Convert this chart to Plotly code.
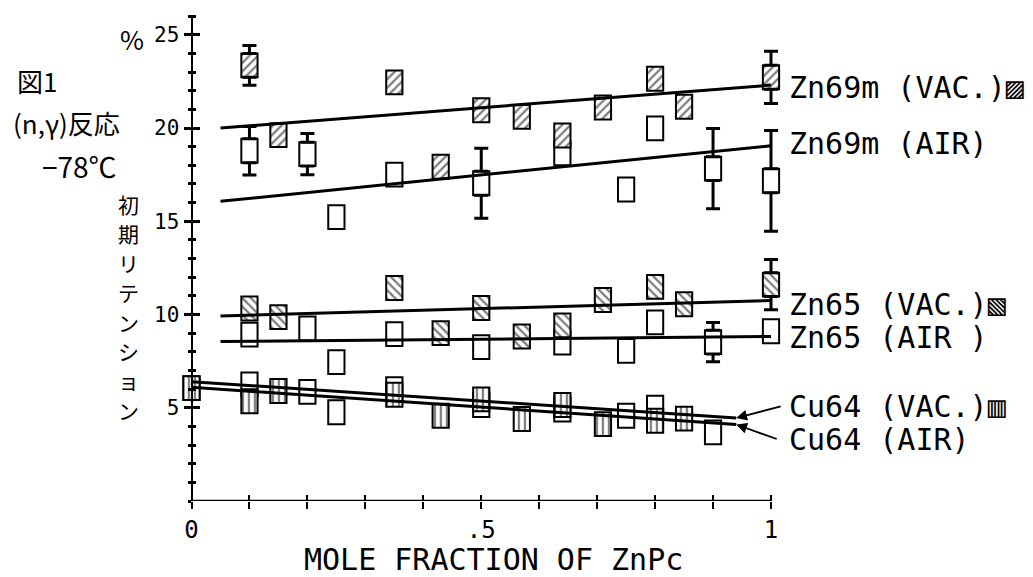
import plotly.graph_objects as go

# ---------------- data ----------------
zn69m_vac_x = [0.10, 0.15, 0.35, 0.43, 0.50, 0.57, 0.64, 0.71, 0.80, 0.85, 1.00]
zn69m_vac_y = [23.36, 19.62, 22.45, 17.92, 20.95, 20.60, 19.60, 21.10, 22.64, 21.14, 22.72]
zn69m_air_x = [0.10, 0.20, 0.25, 0.35, 0.50, 0.64, 0.75, 0.80, 0.90, 1.00]
zn69m_air_y = [18.78, 18.60, 15.22, 17.50, 17.04, 18.65, 16.70, 19.98, 17.82, 17.17]

zn65_vac_x = [0.10, 0.15, 0.35, 0.43, 0.50, 0.57, 0.64, 0.71, 0.80, 0.85, 1.00]
zn65_vac_y = [10.32, 9.86, 11.42, 9.00, 10.35, 8.82, 9.42, 10.78, 11.48, 10.55, 11.60]
zn65_air_x = [0.10, 0.20, 0.25, 0.35, 0.50, 0.64, 0.75, 0.80, 0.90, 1.00]
zn65_air_y = [8.92, 9.25, 7.45, 8.95, 8.25, 8.50, 8.05, 9.58, 8.52, 9.10]

cu64_vac_x = [0.00, 0.10, 0.15, 0.35, 0.43, 0.50, 0.57, 0.64, 0.71, 0.80, 0.85]
cu64_vac_y = [6.05, 5.35, 5.90, 5.70, 4.57, 5.45, 4.40, 5.15, 4.12, 4.30, 4.42]
cu64_air_x = [0.00, 0.10, 0.20, 0.25, 0.35, 0.50, 0.64, 0.75, 0.80, 0.90]
cu64_air_y = [6.05, 6.25, 5.85, 4.76, 6.00, 5.15, 4.90, 4.57, 5.00, 3.68]

# error bars (x, centre value, half-range)
zn69m_vac_err_x = [0.10, 1.00]
zn69m_vac_err_y = [23.36, 22.72]
zn69m_vac_err = [1.07, 1.40]
zn69m_air_err_x = [0.10, 0.20, 0.50, 0.90, 1.00]
zn69m_air_err_y = [18.78, 18.60, 17.04, 17.82, 17.17]
zn69m_air_err = [1.30, 1.10, 1.88, 2.15, 2.70]
zn65_vac_err_x = [1.00]
zn65_vac_err_y = [11.60]
zn65_vac_err = [1.35]
zn65_air_err_x = [0.90]
zn65_air_err_y = [8.52]
zn65_air_err = [1.05]

# fitted lines (end points)
zn_fit_x = [0.05, 1.0]
cu_fit_x = [0.0, 0.94]
zn69m_vac_fit = [20.00, 22.30]
zn69m_air_fit = [16.07, 19.05]
zn65_vac_fit = [9.92, 10.75]
zn65_air_fit = [8.55, 8.82]
cu64_vac_fit = [6.40, 4.45]
cu64_air_fit = [6.10, 4.10]

# axis ticks
x_tickvals = [i / 10 for i in range(11)]
x_ticktext = ["0", "", "", "", "", ".5", "", "", "", "", "1"]
y_tickvals = [5, 10, 15, 20, 25]
y_ticktext = ["5", "10", "15", "20", "25"]

# ---------------- geometry ----------------
W, H = 1033, 577
X0PX, X1PX = 183.5, 763.0          # pixel of x=0 and x=1
Y0PX, YTOPPX = 493.0, 7.0          # pixel of y=0 and top of axis
YMAX = 26.06
XPAD = 0.02
pxu = X1PX - X0PX
dom_l = (X0PX - XPAD * pxu) / W
dom_r = (X1PX + XPAD * pxu) / W
ydom = [1 - Y0PX / H, 1 - YTOPPX / H]

BOX_W = 0.028   # data units (~16 px)
BOX_H = 1.28    # data units (~24 px)
MONO = "DejaVu Sans Mono"
CJK = "Noto Sans CJK JP"

fig = go.Figure()


def boxes(xs, ys, pattern):
    mk = dict(color="white", line=dict(color="black", width=2))
    if pattern:
        mk["pattern"] = dict(shape=pattern, fgcolor="black", bgcolor="white",
                             size=6, solidity=0.38)
    fig.add_trace(go.Bar(x=xs, y=[BOX_H] * len(xs),
                         base=[v - BOX_H / 2 for v in ys],
                         width=BOX_W, marker=mk, hoverinfo="skip",
                         showlegend=False))


def errbars(xs, ys, es):
    top = [v + BOX_H / 2 for v in ys]
    bot = [v - BOX_H / 2 for v in ys]
    up = [e - BOX_H / 2 for e in es]
    z = [0] * len(xs)
    inv = dict(size=1, color="rgba(0,0,0,0)")
    fig.add_trace(go.Scatter(x=xs, y=top, mode="markers", marker=inv,
                             error_y=dict(type="data", array=up, arrayminus=z,
                                          symmetric=False, color="black",
                                          thickness=3, width=7),
                             hoverinfo="skip", showlegend=False))
    fig.add_trace(go.Scatter(x=xs, y=bot, mode="markers", marker=inv,
                             error_y=dict(type="data", array=z, arrayminus=up,
                                          symmetric=False, color="black",
                                          thickness=3, width=7),
                             hoverinfo="skip", showlegend=False))


def fitline(xs, ys):
    fig.add_trace(go.Scatter(x=xs, y=ys, mode="lines",
                             line=dict(color="black", width=3),
                             hoverinfo="skip", showlegend=False))


# boxes
boxes(zn69m_air_x, zn69m_air_y, None)
boxes(zn69m_vac_x, zn69m_vac_y, "/")
boxes(zn65_air_x, zn65_air_y, None)
boxes(zn65_vac_x, zn65_vac_y, "\\")
boxes(cu64_air_x, cu64_air_y, None)
boxes(cu64_vac_x, cu64_vac_y, "|")

# error bars
errbars(zn69m_vac_err_x, zn69m_vac_err_y, zn69m_vac_err)
errbars(zn69m_air_err_x, zn69m_air_err_y, zn69m_air_err)
errbars(zn65_vac_err_x, zn65_vac_err_y, zn65_vac_err)
errbars(zn65_air_err_x, zn65_air_err_y, zn65_air_err)

# fitted lines
fitline(zn_fit_x, zn69m_vac_fit)
fitline(zn_fit_x, zn69m_air_fit)
fitline(zn_fit_x, zn65_vac_fit)
fitline(zn_fit_x, zn65_air_fit)
fitline(cu_fit_x, cu64_vac_fit)
fitline(cu_fit_x, cu64_air_fit)

# empty helper traces so the overlaying tick axes are drawn
fig.add_trace(go.Scatter(x=[], y=[], xaxis="x2", yaxis="y", showlegend=False))
fig.add_trace(go.Scatter(x=[], y=[], xaxis="x", yaxis="y2", showlegend=False))

xr = [-XPAD, 1 + XPAD]
yr = [0, YMAX]
tickfont_x = dict(family=MONO, size=24, color="black")
tickfont_y = dict(family=MONO, size=21, color="black")

fig.update_layout(
    width=W, height=H,
    margin=dict(l=0, r=0, t=0, b=0, autoexpand=False),
    paper_bgcolor="white", plot_bgcolor="white",
    barmode="overlay",
    showlegend=False,
    xaxis=dict(domain=[dom_l, dom_r], range=xr, anchor="y",
               showgrid=False, zeroline=False, showline=False,
               tickmode="array", tickvals=x_tickvals, ticktext=x_ticktext,
               ticks="outside", ticklen=7, tickwidth=2, tickcolor="black",
               tickfont=tickfont_x, fixedrange=True),
    xaxis2=dict(domain=[dom_l, dom_r], range=xr, anchor="y", overlaying="x",
                showgrid=False, zeroline=False, showline=False,
                tickmode="array", tickvals=x_tickvals, showticklabels=False,
                ticks="inside", ticklen=6, tickwidth=2, tickcolor="black",
                side="bottom"),
    yaxis=dict(domain=ydom, range=yr, anchor="free", position=X0PX / W,
               showgrid=False, zeroline=False,
               showline=True, linecolor="black", linewidth=2,
               tickmode="array", tickvals=y_tickvals, ticktext=y_ticktext,
               ticks="outside", ticklen=7, tickwidth=2.5, tickcolor="black",
               tickfont=tickfont_y,
               minor=dict(tickmode="linear", tick0=0, dtick=1, ticks="outside",
                          ticklen=3, tickwidth=2.5, tickcolor="black"),
               fixedrange=True),
    yaxis2=dict(domain=ydom, range=yr, anchor="free", position=X0PX / W,
                overlaying="y", showgrid=False, zeroline=False, showline=False,
                tickmode="array", tickvals=y_tickvals, showticklabels=False,
                ticks="inside", ticklen=7, tickwidth=2.5, tickcolor="black",
                minor=dict(tickmode="linear", tick0=0, dtick=1, ticks="inside",
                           ticklen=3, tickwidth=2.5, tickcolor="black")),
)

# x axis line from 0 to 1
fig.add_shape(type="line", xref="x", yref="y", x0=0, x1=1, y0=0, y1=0,
              line=dict(color="black", width=2.5))


def px_x(p):
    return p / W


def px_y(p):
    return 1 - p / H


def label(text, x, y, size, family=MONO, xanchor="left", **kw):
    fig.add_annotation(text=text, x=px_x(x), y=px_y(y), xref="paper",
                       yref="paper", xanchor=xanchor, yanchor="middle",
                       showarrow=False,
                       font=dict(family=family, size=size, color="black"), **kw)


# right-hand series labels
label("Zn69m (VAC.)▨", 779, 80, 30)
label("Zn69m (AIR)", 779, 135, 30)
label("Zn65 (VAC.)▧", 779, 296, 30)
label("Zn65 (AIR )", 779, 329, 30)
label("Cu64 (VAC.)▥", 779, 398, 30)
label("Cu64 (AIR)", 779, 431, 30)

# arrows for the Cu64 labels
fig.add_annotation(x=cu_fit_x[1], y=cu64_vac_fit[1], xref="x", yref="y",
                   text="", showarrow=True, arrowhead=2, arrowsize=1.2,
                   arrowwidth=1.8, arrowcolor="black", ax=46, ay=-12)
fig.add_annotation(x=cu_fit_x[1], y=cu64_air_fit[1], xref="x", yref="y",
                   text="", showarrow=True, arrowhead=2, arrowsize=1.2,
                   arrowwidth=1.8, arrowcolor="black", ax=42, ay=15)

# x-axis title
label("MOLE FRACTION OF ZnPc", 485, 551, 30, xanchor="center", borderpad=0)

# left-hand handwritten notes
label("%", 124, 31, 26, family=CJK, xanchor="center")
label("図1", 7, 72, 26, family=CJK)
label("(n,γ)反応", 3, 115, 26, family=CJK)
label("−78℃", 32, 158, 28, family=CJK)
vert = "初期リテンション"
for i, ch in enumerate(vert):
    label(ch, 120, 196 + i * 29.4, 21, family=CJK, xanchor="center")

fig.write_html("out.html")
